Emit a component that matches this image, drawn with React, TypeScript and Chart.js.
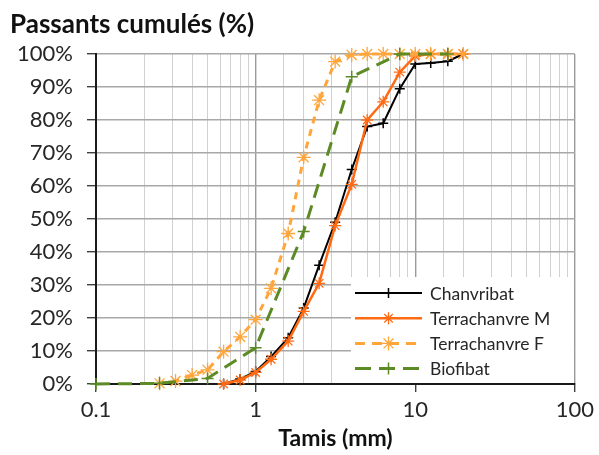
import React, { useEffect, useRef } from 'react';
import { Chart, registerables } from 'chart.js';

Chart.register(...registerables);

// Sieve sizes (mm) and cumulative passing (%) per material
const sizesChanvribat = [0.63, 0.8, 1, 1.25, 1.6, 2, 2.5, 3.15, 4, 5, 6.3, 8, 10, 12.5, 16, 20];
const passChanvribat = [0, 1.5, 3.8, 8.3, 14, 23, 36, 49, 65, 78, 79, 89.5, 97, 97.3, 97.8, 100];

const sizesTerraM = [0.63, 0.8, 1, 1.25, 1.6, 2, 2.5, 3.15, 4, 5, 6.3, 8, 10, 12.5, 16, 20];
const passTerraM = [0, 1.2, 3.5, 7.5, 13, 22, 30.5, 48, 60.5, 80, 85.5, 94.5, 99.4, 100, 100, 100];

const sizesTerraF = [0.25, 0.315, 0.4, 0.5, 0.63, 0.8, 1, 1.25, 1.6, 2, 2.5, 3.15, 4, 5, 6.3, 8, 10, 12.5, 16, 20];
const passTerraF = [0.2, 0.9, 2.7, 4.3, 9.8, 14.3, 19.5, 29, 45.6, 68.7, 86, 97.7, 99.7, 100, 100, 100, 100, 100, 100, 100];

const sizesBiofibat = [0.1, 0.25, 0.5, 1, 2, 4, 8, 16];
const passBiofibat = [0, 0.2, 1.7, 11, 46.2, 93.1, 100, 100];

const seriesLabels = ['Chanvribat', 'Terrachanvre M', 'Terrachanvre F', 'Biofibat'];
const yTitle = 'Passants cumulés (%)';
const xTitle = 'Tamis (mm)';
const xMin = 0.1;
const xMax = 100;

const FONT = 'Lato, "Open Sans", sans-serif';

const toPoints = (xs: number[], ys: number[]) => xs.map((x, i) => ({ x, y: ys[i] }));

function drawMarker(ctx: CanvasRenderingContext2D, style: string, x: number, y: number, r: number, color: string, lw: number) {
  ctx.save();
  ctx.setLineDash([]);
  ctx.strokeStyle = color;
  ctx.lineWidth = lw;
  ctx.beginPath();
  ctx.moveTo(x - r, y);
  ctx.lineTo(x + r, y);
  ctx.moveTo(x, y - r);
  ctx.lineTo(x, y + r);
  if (style === 'star') {
    const d = r * Math.SQRT1_2;
    ctx.moveTo(x - d, y - d);
    ctx.lineTo(x + d, y + d);
    ctx.moveTo(x - d, y + d);
    ctx.lineTo(x + d, y - d);
  }
  ctx.stroke();
  ctx.restore();
}

const decorPlugin = {
  id: 'decor',
  afterDraw(chart: any) {
    const ctx: CanvasRenderingContext2D = chart.ctx;
    ctx.save();
    ctx.fillStyle = '#111';
    ctx.font = `bold 26px ${FONT}`;
    ctx.textBaseline = 'alphabetic';
    ctx.textAlign = 'left';
    ctx.fillText(yTitle, 10, 33);
    ctx.restore();
  },
  afterDatasetsDraw(chart: any) {
    const ctx: CanvasRenderingContext2D = chart.ctx;
    const area = chart.chartArea;
    ctx.save();
    ctx.fillStyle = '#ffffff';
    ctx.fillRect(351, 277, area.right - 352, area.bottom - 278);
    const rowY0 = 293;
    const rowStep = 25.2;
    chart.data.datasets.forEach((ds: any, i: number) => {
      const y = rowY0 + i * rowStep;
      ctx.save();
      ctx.strokeStyle = ds.borderColor;
      ctx.lineWidth = ds.borderWidth;
      ctx.setLineDash(ds.legendDash || []);
      ctx.beginPath();
      ctx.moveTo(355, y);
      ctx.lineTo(422, y);
      ctx.stroke();
      ctx.restore();
      drawMarker(ctx, ds.pointStyle === 'star' ? 'star' : 'cross', 388.5, y, ds.pointRadius, ds.pointBorderColor, ds.pointBorderWidth);
      ctx.fillStyle = '#262626';
      ctx.font = `17.5px ${FONT}`;
      ctx.textBaseline = 'middle';
      ctx.textAlign = 'left';
      ctx.fillText(ds.label, 430, y + 1);
    });
    ctx.restore();
  },
};

const isDecade = (v: number) => {
  const l = Math.log10(v);
  return Math.abs(l - Math.round(l)) < 1e-6;
};

export default function App() {
  const canvasRef = useRef<HTMLCanvasElement | null>(null);

  useEffect(() => {
    if (!canvasRef.current) return;
    const chart = new Chart(canvasRef.current, {
      type: 'line',
      data: {
        datasets: [
          {
            label: seriesLabels[0],
            data: toPoints(sizesChanvribat, passChanvribat),
            borderColor: '#000000',
            borderWidth: 2,
            pointStyle: 'cross',
            pointRadius: 5,
            pointBorderColor: '#000000',
            pointBorderWidth: 1.5,
            order: 4,
            clip: false,
          } as any,
          {
            label: seriesLabels[1],
            data: toPoints(sizesTerraM, passTerraM),
            borderColor: '#FF6A13',
            borderWidth: 2.5,
            pointStyle: 'star',
            pointRadius: 6,
            pointBorderColor: '#FF6A13',
            pointBorderWidth: 1.3,
            order: 3,
            clip: false,
          } as any,
          {
            label: seriesLabels[2],
            data: toPoints(sizesTerraF, passTerraF),
            borderColor: '#FFA53A',
            borderWidth: 3,
            borderDash: [7, 6],
            legendDash: [10, 7],
            pointStyle: 'star',
            pointRadius: 7,
            pointBorderColor: '#FFA53A',
            pointBorderWidth: 1.3,
            order: 2,
            clip: false,
          } as any,
          {
            label: seriesLabels[3],
            data: toPoints(sizesBiofibat, passBiofibat),
            borderColor: '#5C8A24',
            borderWidth: 3,
            borderDash: [14, 8],
            legendDash: [16, 8],
            pointStyle: 'cross',
            pointRadius: 6,
            pointBorderColor: '#5C8A24',
            pointBorderWidth: 1.5,
            order: 1,
            clip: false,
          } as any,
        ],
      },
      options: {
        responsive: false,
        animation: false,
        events: [],
        layout: { padding: { left: 0, top: 54, right: 24, bottom: 0 } },
        elements: { line: { tension: 0, fill: false }, point: { backgroundColor: 'transparent' } },
        plugins: {
          legend: { display: false },
          tooltip: { enabled: false },
          title: { display: false },
        },
        scales: {
          x: {
            type: 'logarithmic',
            min: xMin,
            max: xMax,
            afterFit: (scale: any) => {
              scale.height = 71;
            },
            border: { color: '#1a1a1a', width: 2 },
            grid: {
              color: (c: any) => (c.tick && isDecade(c.tick.value) ? '#9a9a9a' : '#d0d0d0'),
              lineWidth: (c: any) => (c.tick && isDecade(c.tick.value) ? 1.4 : 1),
              tickColor: (c: any) => (c.tick && isDecade(c.tick.value) ? '#404040' : 'rgba(0,0,0,0)'),
              tickLength: 8,
              drawTicks: true,
            },
            ticks: {
              autoSkip: false,
              maxRotation: 0,
              padding: 5,
              color: '#262626',
              font: { family: FONT, size: 22 },
              callback: (v: any) => {
                const n = Number(v);
                if (!isDecade(n)) return '';
                return n < 1 ? String(n) : String(Math.round(n));
              },
            },
            title: {
              display: true,
              text: xTitle,
              color: '#111',
              font: { family: FONT, size: 23, weight: 'bold' },
              padding: 3,
            },
          },
          y: {
            type: 'linear',
            min: 0,
            max: 100,
            afterFit: (scale: any) => {
              scale.width = 96;
            },
            border: { color: '#1a1a1a', width: 2 },
            grid: {
              color: '#a8a8a8',
              lineWidth: 1.4,
              tickColor: '#404040',
              tickLength: 9,
            },
            ticks: {
              stepSize: 10,
              padding: 14,
              color: '#262626',
              font: { family: FONT, size: 22 },
              callback: (v: any) => `${v}%`,
            },
          },
        },
      },
      plugins: [decorPlugin],
    } as any);
    return () => chart.destroy();
  }, []);

  return (
    <div style={{ position: 'absolute', left: 0, top: 0, width: 599, height: 455, background: '#fff' }}>
      <canvas ref={canvasRef} width={599} height={455} style={{ display: 'block' }} />
    </div>
  );
}
